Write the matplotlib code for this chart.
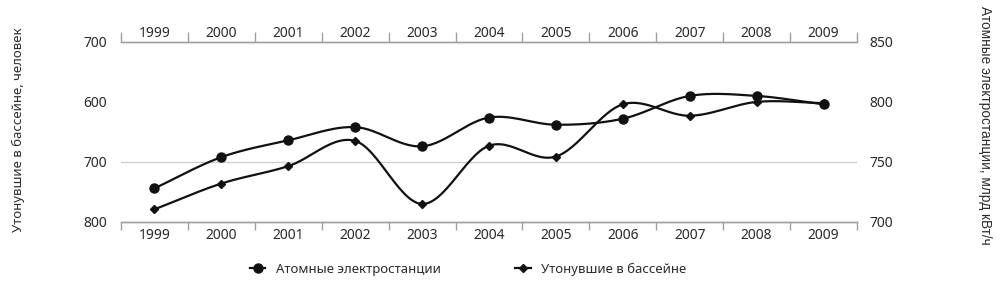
import numpy as np
import matplotlib.pyplot as plt
from matplotlib.lines import Line2D

years = ['1999', '2000', '2001', '2002', '2003', '2004', '2005', '2006', '2007', '2008', '2009']
nuclear = [728, 754, 768, 779, 763, 787, 781, 786, 805, 805, 798]     # right axis, bn kWh
drowned = [421, 464, 493, 535, 430, 527, 509, 596, 577, 600, 598]     # left axis, persons

left_ticks = [400, 500, 600, 700]
left_labels = ['800', '700', '600', '700']   # as printed in the source
right_ticks = [700, 750, 800, 850]

TXT = '#2b2b2b'
GREY = '#a0a0a0'
plt.rcParams['font.family'] = ['Noto Sans', 'DejaVu Sans']


def smooth(x, y, n=30):
    '''Catmull-Rom curve through the points (like a smoothed office chart line)'''
    x = np.asarray(x, float)
    y = np.asarray(y, float)
    px = np.concatenate([[2 * x[0] - x[1]], x, [2 * x[-1] - x[-2]]])
    py = np.concatenate([[2 * y[0] - y[1]], y, [2 * y[-1] - y[-2]]])
    xs, ys = [], []
    t = np.linspace(0, 1, n)
    for i in range(1, len(px) - 2):
        for p, out in ((px, xs), (py, ys)):
            p0, p1, p2, p3 = p[i - 1], p[i], p[i + 1], p[i + 2]
            out.append(0.5 * ((2 * p1) + (-p0 + p2) * t
                              + (2 * p0 - 5 * p1 + 4 * p2 - p3) * t ** 2
                              + (-p0 + 3 * p1 - 3 * p2 + p3) * t ** 3))
    return np.concatenate(xs), np.concatenate(ys)


fig = plt.figure(figsize=(10, 2.89), dpi=100)
ax = fig.add_axes([0.121, 0.232, 0.736, 0.623])
ax2 = ax.twinx()
ax2.xaxis.set_visible(True)

x = np.arange(len(years))

# drownings - left axis
ax.set_ylim(left_ticks[0], left_ticks[-1])
ax.set_yticks(left_ticks)
ax.set_yticklabels(left_labels)
ax.axhline(left_ticks[1], color='#d0d0d0', lw=1, zorder=0)
sx, sy = smooth(x, drowned)
ax.plot(sx, sy, color='#111111', lw=1.6)
ax.plot(x, drowned, ls='none', marker='D', ms=3.8, color='#111111')

# nuclear - right axis
ax2.set_ylim(right_ticks[0], right_ticks[-1])
ax2.set_yticks(right_ticks)
sx, sy = smooth(x, nuclear)
ax2.plot(sx, sy, color='#111111', lw=1.6)
ax2.plot(x, nuclear, ls='none', marker='o', ms=6.5, color='#111111')

for a in (ax, ax2):
    a.set_xlim(-0.5, len(years) - 0.5)
    for s in ('left', 'right'):
        a.spines[s].set_visible(False)
    for s in ('top', 'bottom'):
        a.spines[s].set_color(GREY)
        a.spines[s].set_linewidth(1)
    a.tick_params(axis='y', length=0, labelsize=10, labelcolor=TXT)
    a.set_xticks(x)
    a.set_xticklabels(years)
    a.set_xticks(np.arange(len(years) + 1) - 0.5, minor=True)

ax.tick_params(axis='y', pad=10)
ax2.tick_params(axis='y', pad=9)

# bottom years on ax, top years on ax2
ax.tick_params(axis='x', which='major', length=0, labelsize=10, labelcolor=TXT,
               top=False, labeltop=False, bottom=True, labelbottom=True, pad=4)
ax.tick_params(axis='x', which='minor', length=6, width=1, color=GREY,
               direction='out', top=False, bottom=True)
ax2.tick_params(axis='x', which='major', length=0, labelsize=10, labelcolor=TXT,
                top=True, labeltop=True, bottom=False, labelbottom=False, pad=1)
ax2.tick_params(axis='x', which='minor', length=7, width=1, color=GREY,
                direction='out', top=True, bottom=False)

fig.text(0.018, 0.55, 'Утонувшие в бассейне, человек', rotation=90,
         ha='center', va='center', fontsize=9.5, color=TXT)
fig.text(0.985, 0.565, 'Атомные электростанции, млрд кВт/ч', rotation=-90,
         ha='center', va='center', fontsize=9.8, color=TXT,
         family=['Liberation Sans', 'DejaVu Sans'])

handles = [
    Line2D([], [], color='#111111', lw=1.6, marker='o', ms=6.5),
    Line2D([], [], color='#111111', lw=1.6, marker='D', ms=3.8),
]
fig.legend(handles, ['Атомные электростанции', 'Утонувшие в бассейне'],
           loc='center', bbox_to_anchor=(0.468, 0.068), ncol=2, frameon=False,
           handlelength=1.2, columnspacing=5.6, fontsize=9.5, labelcolor=TXT)

fig.savefig('out.png', dpi=100)
